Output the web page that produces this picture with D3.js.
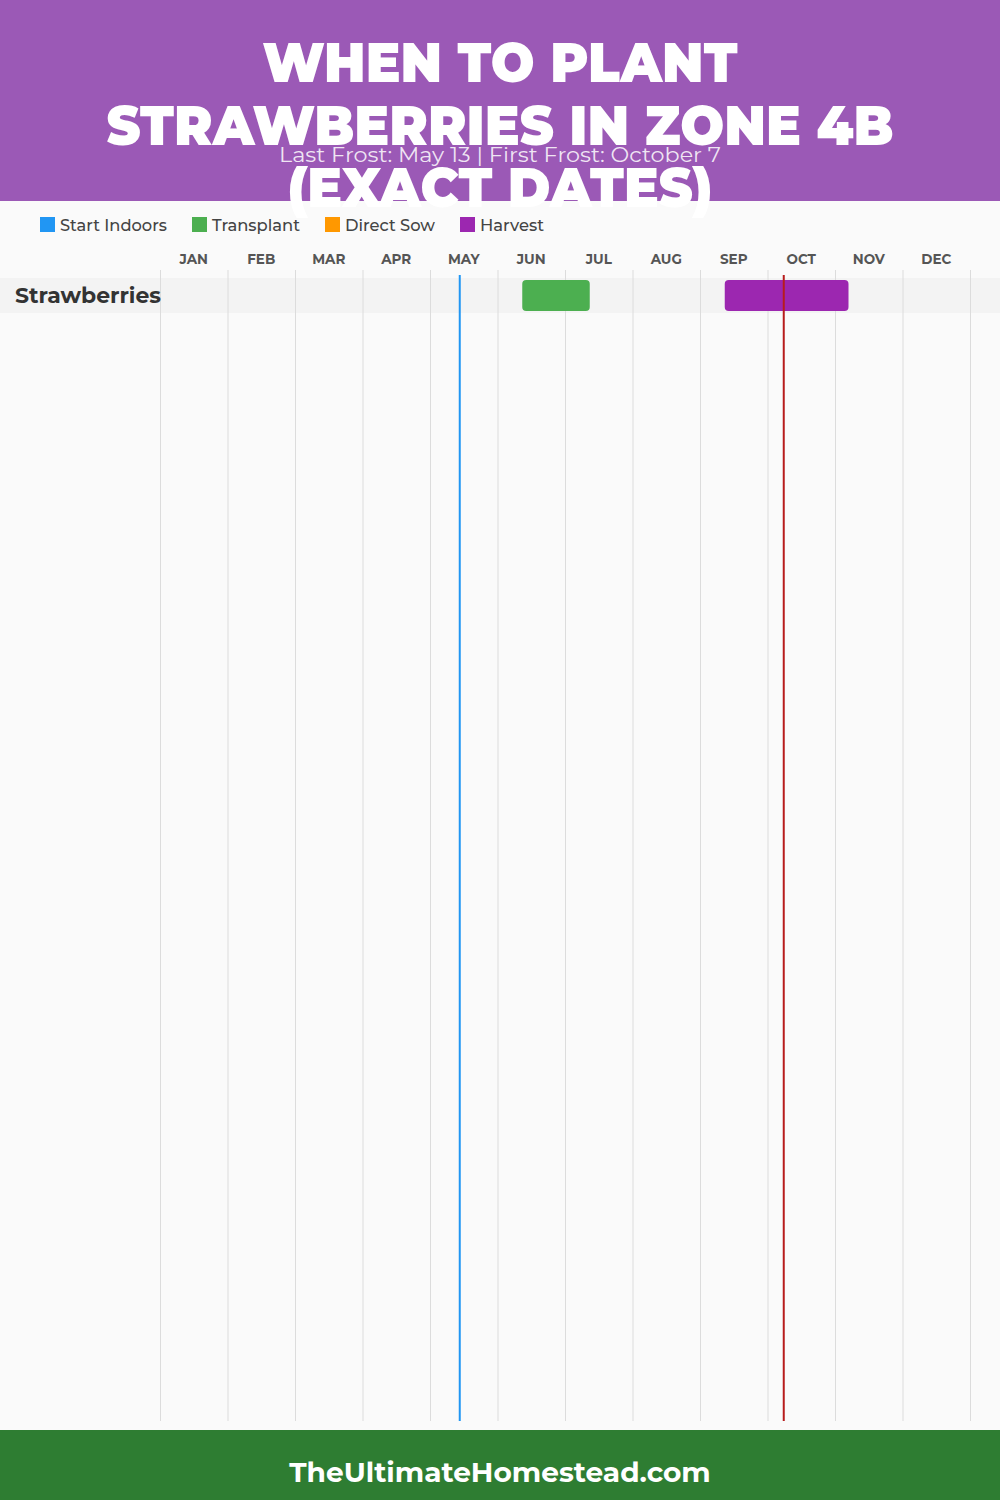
<!DOCTYPE html>
<html><head><meta charset="utf-8">
<script src="https://cdn.jsdelivr.net/npm/d3@7"></script>
<style>body{margin:0;background:#fafafa;}svg{display:block;}</style>
</head><body>
<svg id="chart" width="1000" height="1500"></svg>
<script>
const titleLines = ["WHEN TO PLANT", "STRAWBERRIES IN ZONE 4B", "(EXACT DATES)"];
const subtitle = "Last Frost: May 13 | First Frost: October 7";
const months = ["JAN","FEB","MAR","APR","MAY","JUN","JUL","AUG","SEP","OCT","NOV","DEC"];
const legendNames = ["Start Indoors","Transplant","Direct Sow","Harvest"];
const legendColors = ["#2196F3","#4CAF50","#FF9800","#9C27B0"];
const crops = ["Strawberries"];
const periods = [
  {crop:"Strawberries", type:"Transplant", start:"06-11", end:"07-11"},
  {crop:"Strawberries", type:"Harvest", start:"09-11", end:"11-06"}
];
const lastFrost = "05-13";
const firstFrost = "10-07";
const footer = "TheUltimateHomestead.com";

const toMonth = s => { const [m,d] = s.split("-").map(Number); return (m-1) + d/30; };
const svg = d3.select("#chart");
const font = "Montserrat, Inter, 'Noto Sans', sans-serif";

svg.append("rect").attr("width",1000).attr("height",1500).attr("fill","#fafafa");
svg.append("rect").attr("width",1000).attr("height",201).attr("fill","#9B59B6");

const x = d3.scaleLinear().domain([0,12]).range([160,970]);
const color = d3.scaleOrdinal().domain(legendNames).range(legendColors);
const y = d3.scaleBand().domain(crops).range([278, 278 + 35*crops.length]);

// row bands
svg.selectAll(".band").data(crops).join("rect")
  .attr("x",0).attr("width",1000).attr("y",d=>y(d)).attr("height",y.bandwidth()).attr("fill","#f3f3f3");

// grid lines
svg.selectAll(".grid").data(d3.range(13)).join("line")
  .attr("x1",d=>x(d)+0.5).attr("x2",d=>x(d)+0.5).attr("y1",270).attr("y2",1421)
  .attr("stroke","#dcdcdc").attr("stroke-width",1);

// month labels
svg.selectAll(".mlab").data(months).join("text")
  .attr("x",(d,i)=>x(i+0.5)).attr("y",264).attr("text-anchor","middle")
  .attr("font-family",font).attr("font-weight",700).attr("font-size",13.5).attr("fill","#555")
  .text(d=>d);

// bars
svg.selectAll(".bar").data(periods).join("rect")
  .attr("x",d=>x(toMonth(d.start))).attr("width",d=>x(toMonth(d.end))-x(toMonth(d.start)))
  .attr("y",d=>y(d.crop)+2).attr("height",y.bandwidth()-4).attr("rx",4)
  .attr("fill",d=>color(d.type));

// crop labels
svg.selectAll(".clab").data(crops).join("text")
  .attr("x",15).attr("y",d=>y(d)+y.bandwidth()/2+7.5)
  .attr("font-family",font).attr("font-weight",700).attr("font-size",21.5).attr("fill","#333")
  .attr("textLength",146).attr("lengthAdjust","spacingAndGlyphs")
  .text(d=>d);

// frost lines
svg.append("line").attr("x1",x(toMonth(lastFrost))+0.5).attr("x2",x(toMonth(lastFrost))+0.5)
  .attr("y1",275).attr("y2",1421).attr("stroke","#2196F3").attr("stroke-width",2);
svg.append("line").attr("x1",x(toMonth(firstFrost))+0.5).attr("x2",x(toMonth(firstFrost))+0.5)
  .attr("y1",275).attr("y2",1421).attr("stroke","#B71C1C").attr("stroke-width",2);

// legend
const legX = [40,192,325,460];
const legW = [107,88,90,64];
const lg = svg.selectAll(".leg").data(legendNames).join("g")
  .attr("transform",(d,i)=>`translate(${legX[i]},217)`);
lg.append("rect").attr("width",15).attr("height",15).attr("fill",d=>color(d));
lg.append("text").attr("x",20).attr("y",13.5)
  .attr("font-family",font).attr("font-weight",500).attr("font-size",16).attr("fill","#444")
  .attr("textLength",(d,i)=>legW[i]).attr("lengthAdjust","spacingAndGlyphs").text(d=>d);

// title
const titleW = [475,787,425];
const titleY = [82,145,207];
svg.selectAll(".title").data(titleLines).join("text")
  .attr("x",500).attr("y",(d,i)=>titleY[i]).attr("text-anchor","middle")
  .attr("font-family",font).attr("font-weight",900).attr("font-size",56).attr("fill","#fff")
  .attr("textLength",(d,i)=>titleW[i]).attr("lengthAdjust","spacingAndGlyphs")
  .text(d=>d);

svg.append("text").attr("x",500).attr("y",162).attr("text-anchor","middle")
  .attr("font-family",font).attr("font-size",20).attr("fill","rgba(255,255,255,0.85)")
  .attr("textLength",442).attr("lengthAdjust","spacingAndGlyphs").text(subtitle);

// footer
svg.append("rect").attr("y",1430).attr("width",1000).attr("height",70).attr("fill","#2E7D32");
svg.append("text").attr("x",500).attr("y",1482).attr("text-anchor","middle")
  .attr("font-family",font).attr("font-weight",700).attr("font-size",28).attr("fill","#fff")
  .text(footer);
</script>
</body></html>
